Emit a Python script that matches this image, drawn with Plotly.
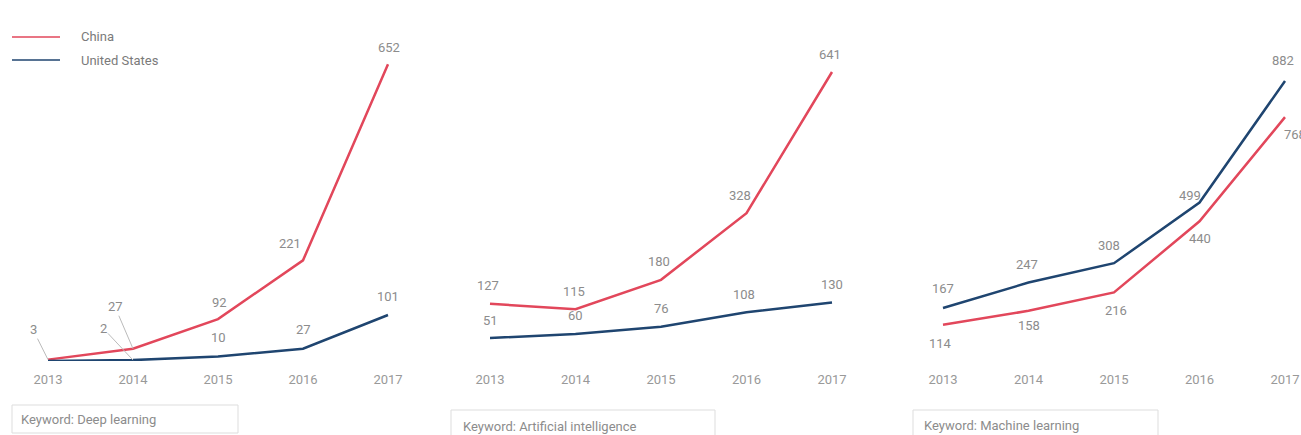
import plotly.graph_objects as go

years = [2013, 2014, 2015, 2016, 2017]

dl_china = [3, 27, 92, 221, 652]
dl_us = [0, 2, 10, 27, 101]

ai_china = [127, 115, 180, 328, 641]
ai_us = [51, 60, 76, 108, 130]

ml_china = [114, 158, 216, 440, 768]
ml_us = [167, 247, 308, 499, 882]

keywords = ["Keyword: Deep learning", "Keyword: Artificial intelligence", "Keyword: Machine learning"]
series_names = ["China", "United States"]

RED = "#e2475b"
BLUE = "#1f4570"
GREY = "#8c8c8c"
FONT = "Roboto"
W, H = 1301, 435

fig = go.Figure()

panels = [
    (dl_china, dl_us, "x", "y"),
    (ai_china, ai_us, "x2", "y2"),
    (ml_china, ml_us, "x3", "y3"),
]

for i, (cn, us, xa, ya) in enumerate(panels):
    fig.add_trace(go.Scatter(x=years, y=cn, mode="lines", name=series_names[0],
                             line=dict(color=RED, width=2.5), xaxis=xa, yaxis=ya,
                             showlegend=False, hoverinfo="skip"))
    fig.add_trace(go.Scatter(x=years, y=us, mode="lines", name=series_names[1],
                             line=dict(color=BLUE, width=2.5), xaxis=xa, yaxis=ya,
                             showlegend=False, hoverinfo="skip"))

def px_x(p):
    return p / W

def px_y(p):
    return 1 - p / H

ydom = [px_y(361), px_y(40)]
xdoms = [[px_x(5.5), px_x(413.5)], [px_x(447.25), px_x(857.65)], [px_x(900.25), 1.0]]
xranges = [[2012.5, 2017.3], [2012.5, 2017.3], [2012.5, 2017.187]]
yranges = [[0, 705], [0, 712], [0, 1011]]
griddash = ["solid", "dot", "dot"]

layout = dict(
    width=W, height=H,
    margin=dict(l=0, r=0, t=0, b=0),
    paper_bgcolor="white", plot_bgcolor="white",
    font=dict(family=FONT, color=GREY, size=13),
    showlegend=False,
)
for i in range(3):
    sfx = "" if i == 0 else str(i + 1)
    layout["xaxis" + sfx] = dict(domain=xdoms[i], range=xranges[i], anchor="y" + sfx,
                                 tickvals=years, ticktext=[str(y) for y in years],
                                 showgrid=False, zeroline=False, showline=False,
                                 ticks="outside", ticklen=6, tickcolor="rgba(0,0,0,0)",
                                 tickfont=dict(size=13, color="#999999", family=FONT),
                                 fixedrange=True)
    layout["yaxis" + sfx] = dict(domain=ydom, range=yranges[i], anchor="x" + sfx,
                                 tickvals=[0], showticklabels=False, showgrid=True,
                                 gridcolor="#e3e3e3", gridwidth=1, griddash=griddash[i],
                                 zeroline=False, showline=False, fixedrange=True)
fig.update_layout(**layout)

# Legend drawn by hand
for k, (name, col) in enumerate(zip(series_names, [RED, BLUE])):
    yy = 37 + 23 * k
    fig.add_shape(type="line", xref="paper", yref="paper",
                  x0=px_x(12), x1=px_x(60), y0=px_y(yy), y1=px_y(yy),
                  line=dict(color=col, width=2, ), opacity=0.75)
    fig.add_annotation(xref="paper", yref="paper", x=px_x(79), y=px_y(yy),
                       xanchor="left", yanchor="middle", text=name, showarrow=False,
                       font=dict(size=13, color="#7a7a7a", family=FONT))

def label(xref, yref, x, y, text, xshift=0, yshift=17):
    fig.add_annotation(x=x, y=y, xref=xref, yref=yref, text=text, showarrow=False,
                       xshift=xshift, yshift=yshift,
                       font=dict(size=13, color=GREY, family=FONT))

def leader(xref, yref, x, y, text, ax, ay):
    fig.add_annotation(x=x, y=y, xref=xref, yref=yref, text=text, showarrow=True,
                       arrowhead=0, arrowwidth=1, arrowcolor="#bbbbbb", ax=ax, ay=ay,
                       font=dict(size=13, color=GREY, family=FONT))

# Panel 1
leader("x", "y", years[0], dl_china[0], str(dl_china[0]), -15, -30)
leader("x", "y", years[1], dl_china[1], str(dl_china[1]), -18, -42)
leader("x", "y", years[1], dl_us[1], str(dl_us[1]), -30, -32)
for j in [2, 3, 4]:
    label("x", "y", years[j], dl_china[j], str(dl_china[j]), xshift=(-13 if j == 3 else 1))
for j in [2, 3, 4]:
    label("x", "y", years[j], dl_us[j], str(dl_us[j]), xshift=0, yshift=19)

# Panel 2
for j in range(5):
    label("x2", "y2", years[j], ai_china[j], str(ai_china[j]), xshift=(-7 if j == 3 else -2), yshift=18)
    label("x2", "y2", years[j], ai_us[j], str(ai_us[j]), xshift=(-3 if j == 3 else 0), yshift=18)

# Panel 3
us_shift = [(0, 19), (-2, 18), (-5, 18), (-10, 7), (-2, 20)]
cn_shift = [(-3, -19), (0, -15), (2, -18), (0, -17), (10, -17)]
for j in range(5):
    label("x3", "y3", years[j], ml_us[j], str(ml_us[j]), *us_shift[j])
    label("x3", "y3", years[j], ml_china[j], str(ml_china[j]), *cn_shift[j])

# Keyword boxes
boxes = [(12, 405, 238, 433), (451, 410, 715, 445), (913, 410, 1158, 445)]
text_pos = [(19, 419), (461, 426), (922, 425)]
for (x0, y0, x1, y1), (tx, ty), kw in zip(boxes, text_pos, keywords):
    fig.add_shape(type="rect", xref="paper", yref="paper",
                  x0=px_x(x0), x1=px_x(x1), y0=px_y(y1), y1=px_y(y0),
                  line=dict(color="#dddddd", width=1), fillcolor="rgba(0,0,0,0)")
    fig.add_annotation(xref="paper", yref="paper", x=px_x(tx), y=px_y(ty),
                       xanchor="left", yanchor="middle", text=kw, showarrow=False,
                       font=dict(size=13, color=GREY, family=FONT))

fig.write_html("out.html")
